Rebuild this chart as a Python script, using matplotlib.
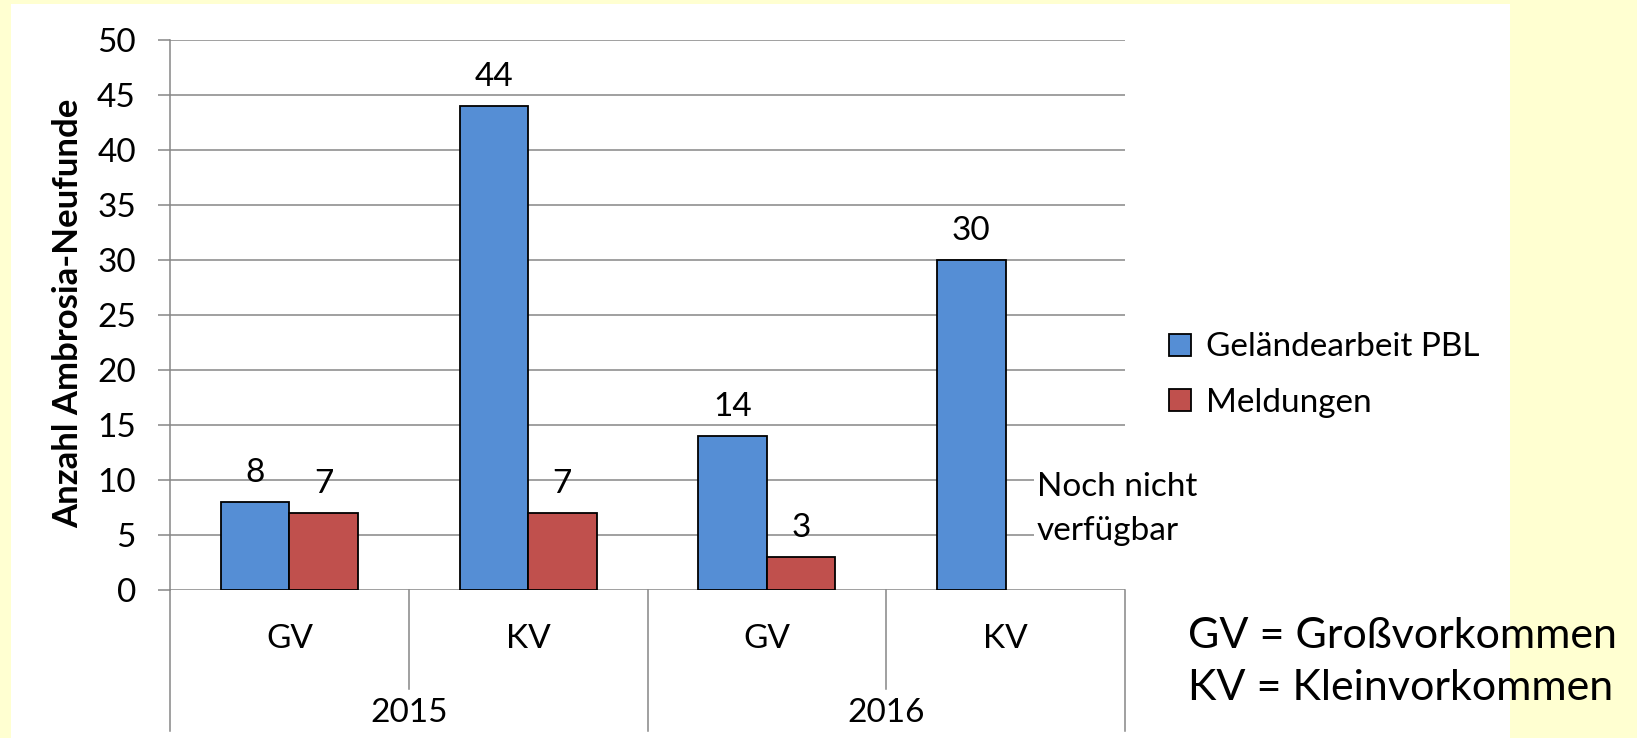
import numpy as np
import matplotlib
matplotlib.use("Agg")
from matplotlib import pyplot as plt
from matplotlib.patches import Rectangle

# data
years = ["2015", "2016"]
categories = ["GV", "KV", "GV", "KV"]
gelaende = [8, 44, 14, 30]
meldungen = [7, 7, 3, np.nan]   # 2016 KV: not available yet
series_names = ["Geländearbeit PBL", "Meldungen"]
y_ticks = list(range(0, 55, 5))

plt.rcParams['font.family'] = ['Lato', 'DejaVu Sans']
FS = 24

W, H = 1637, 738
fig = plt.figure(figsize=(W / 100, H / 100), dpi=100)
fig.patch.set_facecolor('#FFFFD1')
# white slide panel
fig.patches.append(Rectangle((11 / W, 0), (1510 - 11) / W, (H - 4) / H,
                             transform=fig.transFigure, facecolor='white',
                             edgecolor='none', zorder=-10))

ax = fig.add_axes([170 / W, (H - 590) / H, (1125 - 170) / W, 550 / H])
ax.set_facecolor('none')

grid_col = '#868686'
x = np.arange(len(categories)) + 0.5
bw = 0.287
b1 = ax.bar(x - bw / 2, gelaende, bw, color='#558ED5', edgecolor='black', lw=1.3,
            label=series_names[0], zorder=3)
b2 = ax.bar(x + bw / 2, meldungen, bw, color='#C0504D', edgecolor='black', lw=1.3,
            label=series_names[1], zorder=3)

# value labels above bars
for xs, vals in [(x - bw / 2, gelaende), (x + bw / 2, meldungen)]:
    for xi, v in zip(xs, vals):
        if np.isnan(v):
            continue
        ax.annotate(f"{int(v)}", (xi, v), xytext=(0, 21), textcoords='offset points',
                    ha='center', va='center', fontsize=FS)

ax.set_xlim(0, len(categories))
ax.set_ylim(0, 50)
ax.set_yticks(y_ticks)
ax.yaxis.grid(True, color=grid_col, lw=1.1, zorder=0)
ax.set_axisbelow(True)
ax.tick_params(axis='y', length=8.6, width=1.1, color=grid_col, pad=16, labelsize=FS)
ax.tick_params(axis='x', bottom=False, labelbottom=False)
for s in ['top', 'right', 'bottom']:
    ax.spines[s].set_visible(False)
ax.spines['left'].set_color(grid_col)
ax.spines['left'].set_linewidth(1.1)

# two-level category axis below the plot
tr = ax.get_xaxis_transform()
for i in range(len(categories) + 1):
    bottom = -0.256 if i % 2 == 0 else -0.18
    ax.plot([i, i], [0, bottom], color=grid_col, lw=1.1, transform=tr, clip_on=False)
for xi, c in zip(x, categories):
    ax.text(xi, -0.089, c, transform=tr, ha='center', va='center', fontsize=FS)
for j, yr in enumerate(years):
    ax.text(2 * j + 1, -0.224, yr, transform=tr, ha='center', va='center', fontsize=FS)

fig.text(68 / W, (H - 313) / H, "Anzahl Ambrosia-Neufunde", rotation=90,
         ha='center', va='center', fontsize=25, fontweight='bold')

ax.legend(handles=[b1, b2], loc='center left', bbox_to_anchor=(1169 / W, (H - 375) / H),
          bbox_transform=fig.transFigure, frameon=False, fontsize=FS, borderpad=0,
          borderaxespad=0, handlelength=0.65, handleheight=0.65, handletextpad=0.45,
          labelspacing=0.75)

fig.text(1037 / W, (H - 509) / H, "Noch nicht\nverfügbar", ha='left', va='center',
         fontsize=FS, linespacing=1.55,
         bbox=dict(facecolor='white', edgecolor='none', pad=2))

fig.text(1188 / W, (H - 662) / H, "GV = Großvorkommen\nKV = Kleinvorkommen",
         ha='left', va='center', fontsize=31, linespacing=1.45)

fig.savefig("out.png", dpi=100, facecolor=fig.get_facecolor())
